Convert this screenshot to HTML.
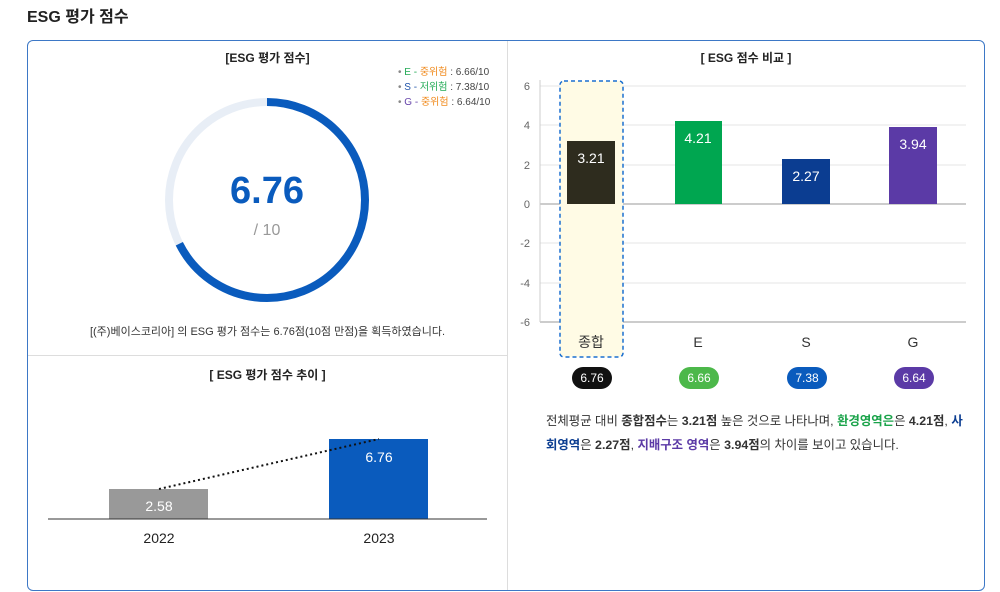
<!DOCTYPE html>
<html><head><meta charset="utf-8"><style>
body{margin:0;width:1000px;height:592px;background:#fff;font-family:"Liberation Sans","Noto Sans CJK KR",sans-serif;position:relative;overflow:hidden}
.a{position:absolute}
</style></head><body>
<div class="a" style="left:27px;top:3px;font-size:16px;font-weight:bold;color:#222">ESG 평가 점수</div>
<div class="a" style="left:27px;top:40px;width:956px;height:549px;border:1px solid #3d78c6;border-radius:6px"></div>
<div class="a" style="left:507px;top:41px;width:1px;height:549px;background:#ddd"></div>
<div class="a" style="left:28px;top:355px;width:479px;height:1px;background:#ddd"></div>
<div class="a" style="left:28px;top:49px;width:479px;text-align:center;font-size:12px;font-weight:bold;color:#222">[ESG 평가 점수]</div>
<div class="a" style="left:398px;top:65px;font-size:10px;line-height:15px;color:#444">
<div><span style="color:#888">•</span> <span style="color:#22aa55">E - </span><span style="color:#f08a1c">중위험</span> : 6.66/10</div>
<div><span style="color:#888">•</span> <span style="color:#2255aa">S - </span><span style="color:#22aa55">저위험</span> : 7.38/10</div>
<div><span style="color:#888">•</span> <span style="color:#6644aa">G - </span><span style="color:#f08a1c">중위험</span> : 6.64/10</div></div>
<svg class="a" style="left:0;top:0" width="1000" height="592">
<circle cx="267" cy="200" r="98" fill="none" stroke="#e8eef6" stroke-width="8"/>
<circle cx="267" cy="200" r="98" fill="none" stroke="#0a5bbd" stroke-width="8" stroke-dasharray="416.3 615.8" transform="rotate(-90 267 200)"/>
<g stroke="#e6e6e6" stroke-width="1">
<line x1="540" y1="86" x2="966" y2="86"/><line x1="540" y1="125" x2="966" y2="125"/><line x1="540" y1="165" x2="966" y2="165"/><line x1="540" y1="243" x2="966" y2="243"/><line x1="540" y1="283" x2="966" y2="283"/></g>
<line x1="540" y1="204" x2="966" y2="204" stroke="#999"/>
<line x1="540" y1="322" x2="966" y2="322" stroke="#999"/>
<line x1="540" y1="80" x2="540" y2="322" stroke="#ccc"/>
<g font-size="11" fill="#666" text-anchor="end">
<text x="530" y="90">6</text><text x="530" y="129">4</text><text x="530" y="169">2</text><text x="530" y="208">0</text><text x="530" y="247">-2</text><text x="530" y="287">-4</text><text x="530" y="326">-6</text></g>
<rect x="560" y="81" width="63" height="276" rx="4" fill="#fffbe5" stroke="#1a6fd0" stroke-width="1.5" stroke-dasharray="4 3"/>
<rect x="567" y="141" width="48" height="63" fill="#2e2c1e"/>
<rect x="675" y="121" width="47" height="83" fill="#00a650"/>
<rect x="782" y="159" width="48" height="45" fill="#0b3d91"/>
<rect x="889" y="127" width="48" height="77" fill="#5b3aa6"/>
<g font-size="14" fill="#fff" text-anchor="middle">
<text x="591" y="163">3.21</text><text x="698" y="143">4.21</text><text x="806" y="181">2.27</text><text x="913" y="149">3.94</text></g>
<g font-size="14" fill="#333" text-anchor="middle">
<text x="591" y="347">종합</text><text x="698" y="347">E</text><text x="806" y="347">S</text><text x="913" y="347">G</text></g>
<rect x="572" y="367" width="40" height="22" rx="11" fill="#111"/>
<rect x="679" y="367" width="40" height="22" rx="11" fill="#4cb84a"/>
<rect x="787" y="367" width="40" height="22" rx="11" fill="#0a5bbd"/>
<rect x="894" y="367" width="40" height="22" rx="11" fill="#5b3aa6"/>
<g font-size="12" fill="#fff" text-anchor="middle">
<text x="592" y="382">6.76</text><text x="699" y="382">6.66</text><text x="807" y="382">7.38</text><text x="914" y="382">6.64</text></g>
<rect x="109" y="489" width="99" height="30" fill="#999"/>
<rect x="329" y="439" width="99" height="80" fill="#0a5bbd"/>
<line x1="48" y1="519" x2="487" y2="519" stroke="#333"/>
<line x1="159" y1="489" x2="379" y2="439" stroke="#111" stroke-width="2" stroke-dasharray="2 3"/>
<g font-size="14" fill="#fff" text-anchor="middle"><text x="159" y="511">2.58</text><text x="379" y="462">6.76</text></g>
<g font-size="14" fill="#222" text-anchor="middle"><text x="159" y="543">2022</text><text x="379" y="543">2023</text></g>
</svg>
<div class="a" style="left:167px;top:170px;width:200px;text-align:center;font-size:38px;font-weight:bold;color:#0a5bbd">6.76</div>
<div class="a" style="left:167px;top:222px;width:200px;text-align:center;font-size:16px;color:#999">/ 10</div>
<div class="a" style="left:28px;top:323px;width:479px;text-align:center;font-size:11px;color:#333">[(주)베이스코리아] 의 ESG 평가 점수는 6.76점(10점 만점)을 획득하였습니다.</div>
<div class="a" style="left:28px;top:366px;width:479px;text-align:center;font-size:12px;font-weight:bold;color:#222">[ ESG 평가 점수 추이 ]</div>
<div class="a" style="left:508px;top:49px;width:476px;text-align:center;font-size:12px;font-weight:bold;color:#222">[ ESG 점수 비교 ]</div>
<div class="a" style="left:546px;top:409px;width:422px;font-size:12.4px;line-height:24px;color:#333;word-break:break-all">전체평균 대비 <b>종합점수</b>는 <b>3.21점</b> 높은 것으로 나타나며, <b style="color:#1aa34a">환경영역은</b>은 <b>4.21점</b>, <b style="color:#0b3d91">사회영역</b>은 <b>2.27점</b>, <b style="color:#5b3aa6">지배구조 영역</b>은 <b>3.94점</b>의 차이를 보이고 있습니다.</div>
</body></html>
